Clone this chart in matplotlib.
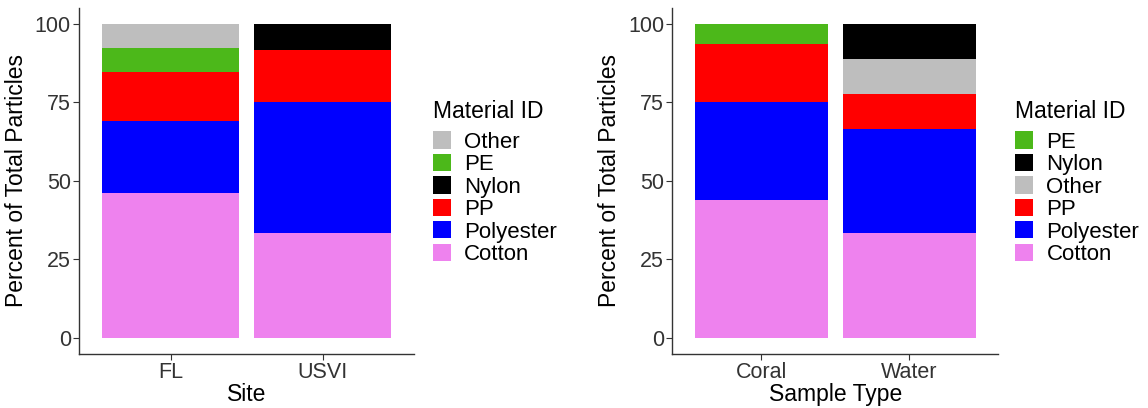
import matplotlib.pyplot as plt
from matplotlib.patches import Patch
import numpy as np

plt.rcParams['font.family'] = ['Liberation Sans', 'DejaVu Sans']

# percent of total particles per material, per group
materials_site = ["Cotton", "Polyester", "PP", "Nylon", "PE", "Other"]
sites = ["FL", "USVI"]
fl_pct = [46.15, 23.08, 15.38, 0, 7.69, 7.69]
usvi_pct = [33.33, 41.67, 16.67, 8.33, 0, 0]

materials_type = ["Cotton", "Polyester", "PP", "Other", "Nylon", "PE"]
sample_types = ["Coral", "Water"]
coral_pct = [43.75, 31.25, 18.75, 0, 0, 6.25]
water_pct = [33.33, 33.33, 11.11, 11.11, 11.11, 0]

colors = {
    "Cotton": "#EE82EE",
    "Polyester": "#0000FF",
    "PP": "#FF0000",
    "Nylon": "#000000",
    "PE": "#4CB81A",
    "Other": "#BEBEBE",
}


def stacked(ax, groups, materials, values, xlabel, legend_x):
    vals = np.array(values)
    x = np.arange(1, len(groups) + 1)
    bottom = np.zeros(len(groups))
    for j, m in enumerate(materials):
        ax.bar(x, vals[:, j], bottom=bottom, width=0.9, color=colors[m],
               linewidth=0)
        bottom += vals[:, j]
    ax.set_xlim(0.4, len(groups) + 0.6)
    ax.set_ylim(-5.2, 105.1)
    ax.set_xticks(x)
    ax.set_xticklabels(groups)
    ax.set_yticks([0, 25, 50, 75, 100])
    ax.tick_params(labelsize=15.5, colors="#333333", length=4, width=0.8,
                   pad=2)
    for side in ("top", "right"):
        ax.spines[side].set_visible(False)
    for side in ("left", "bottom"):
        ax.spines[side].set_color("#333333")
        ax.spines[side].set_linewidth(1.0)
    ax.set_xlabel(xlabel, fontsize=16.5, labelpad=0)
    ax.set_ylabel("Percent of Total Particles", fontsize=16.5, labelpad=5)

    handles = [Patch(facecolor=colors[m], edgecolor="none", label=m)
               for m in materials[::-1]]
    leg = fig.legend(handles=handles, title="Material ID", loc="upper left",
                     bbox_to_anchor=(legend_x, 0.755), frameon=False,
                     fontsize=16, title_fontsize=16.5, handlelength=0.82,
                     handleheight=0.82, labelspacing=0.05, handletextpad=0.6,
                     borderpad=0, borderaxespad=0)
    leg._legend_box.align = "left"
    leg._legend_box.sep = 6


fig = plt.figure(figsize=(11.48, 4.08), dpi=100)
ax1 = fig.add_axes([0.0691, 0.1324, 0.2913, 0.848])
ax2 = fig.add_axes([0.5858, 0.1324, 0.2835, 0.848])

stacked(ax1, sites, materials_site, [fl_pct, usvi_pct], "Site", 0.377)
stacked(ax2, sample_types, materials_type, [coral_pct, water_pct],
        "Sample Type", 0.884)

fig.savefig("out.png", dpi=100)
